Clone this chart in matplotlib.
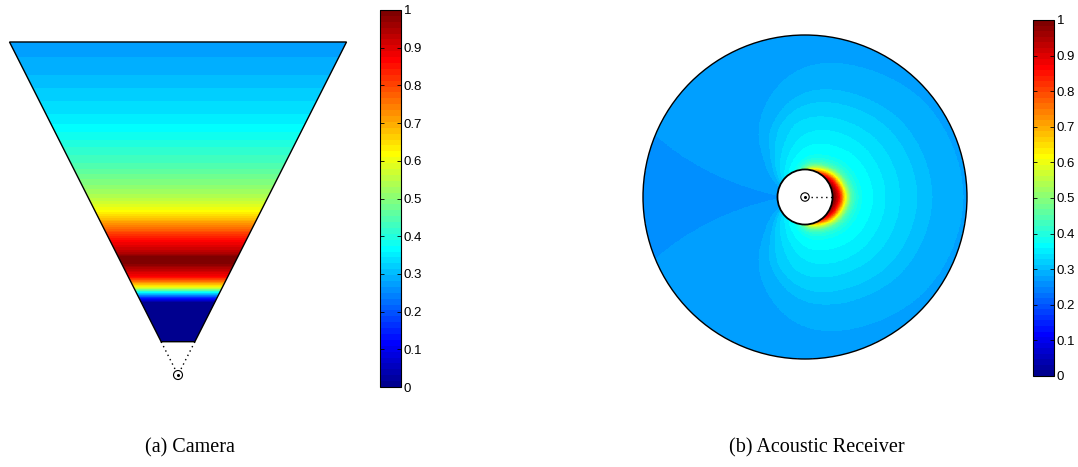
import numpy as np
import matplotlib
matplotlib.use("Agg")
import matplotlib.pyplot as plt
from matplotlib.colors import ListedColormap, Normalize
from matplotlib.patches import Polygon, Circle
import matplotlib.cm as cm

# ---------------- data ----------------
# Camera: detection value vs. distance from the camera (field of view units)
cam_dist = [1.0, 2.16, 2.31, 2.46, 2.64, 2.94, 3.21, 3.35, 3.52, 3.66, 3.99,
            4.44, 4.89, 5.26, 5.7, 6.3, 7.06, 7.66, 8.4, 9.16, 10.0]
cam_val = [0.0, 0.0, 0.15, 0.35, 0.62, 0.87, 0.95, 1.0, 1.0, 0.94, 0.87,
           0.75, 0.62, 0.55, 0.5, 0.44, 0.39, 0.35, 0.32, 0.29, 0.27]
cam_near, cam_far = 1.0, 10.0
cam_half_tan = 0.506          # tan of half field of view

# Acoustic receiver: value vs. scaled range on the front axis (units of max range)
ac_rho = [0.17, 0.191, 0.21, 0.228, 0.247, 0.265, 0.29, 0.321, 0.358, 0.426,
          0.5, 0.593, 0.698, 0.79, 0.988, 5.56, 123.0]
ac_val = [1.0, 0.97, 0.90, 0.80, 0.66, 0.55, 0.45, 0.40, 0.375, 0.359,
          0.344, 0.328, 0.3125, 0.297, 0.281, 0.2656, 0.256]
# angular reach of the contours (far field and close to the blind zone)
ac_angle = [0, 40, 50, 65, 80, 95, 110, 120, 130, 140, 150, 160, 166, 172, 180]
ac_reach_far = [1.0, 0.96, 0.93, 0.89, 0.86, 0.80, 0.66, 0.57, 0.45, 0.33,
                0.24, 0.17, 0.10, 0.03, 0.0]
ac_reach_near = [1.0, 0.86, 0.80, 0.74, 0.69, 0.61, 0.51, 0.45, 0.39, 0.32,
                 0.25, 0.17, 0.10, 0.03, 0.0]
ac_blind = 0.17               # blind-zone radius
ac_max = 1.0                  # maximum range

cbar_ticks = [0, 0.1, 0.2, 0.3, 0.4, 0.5, 0.6, 0.7, 0.8, 0.9, 1]
cbar_labels = ['0', '0.1', '0.2', '0.3', '0.4', '0.5', '0.6', '0.7', '0.8', '0.9', '1']
captions = ['(a) Camera', '(b) Acoustic Receiver']

# ---------------- MATLAB jet(64) ----------------
def matlab_jet(m=64):
    n = int(np.ceil(m / 4))
    u = np.concatenate([np.arange(1, n + 1) / n, np.ones(n - 1), np.arange(n, 0, -1) / n])
    g = int(np.ceil(n / 2)) - (1 if m % 4 == 1 else 0) + np.arange(1, len(u) + 1) - 1
    r = g + n
    b = g - n
    J = np.zeros((m, 3))
    for col, idx in ((0, r), (1, g), (2, b)):
        ok = (idx >= 0) & (idx < m)
        J[idx[ok], col] = u[ok]
    return ListedColormap(J)

cmap = matlab_jet(64)
norm = Normalize(0, 1)

def smooth_reach(angles, reach, sigma=7.0):
    """Smooth angular table (reflect at 0 and 180 deg)."""
    af = np.linspace(0, 180, 1801)
    sf = np.interp(af, angles, reach)
    ext = np.concatenate([sf[:0:-1], sf, sf[-2::-1]])
    step = af[1] - af[0]
    k = np.arange(-int(4 * sigma / step), int(4 * sigma / step) + 1) * step
    ker = np.exp(-0.5 * (k / sigma) ** 2)
    ker /= ker.sum()
    sm_ = np.convolve(ext, ker, mode='same')
    return af, sm_[len(sf) - 1: 2 * len(sf) - 1]

W, H = 1078, 467
fig = plt.figure(figsize=(W / 100, H / 100), dpi=100)

def frac(x0, y0, x1, y1):
    return [x0 / W, (H - y1) / H, (x1 - x0) / W, (y1 - y0) / H]

# ---------------- camera panel ----------------
ax1 = fig.add_axes(frac(0, 30, 356, 390))
xl = (-5.345, 5.345)
yl = (-0.45, 10.36)
ax1.set_xlim(*xl)
ax1.set_ylim(*yl)
ax1.axis('off')

xs = np.linspace(xl[0], xl[1], 800)
ds = np.linspace(yl[0], yl[1], 900)
X, D = np.meshgrid(xs, ds)
V = np.interp(D, cam_dist, cam_val)
im1 = ax1.imshow(V, extent=[xl[0], xl[1], yl[0], yl[1]], origin='lower',
                 cmap=cmap, norm=norm, interpolation='nearest', aspect='auto')
trap = [(-cam_half_tan * cam_far, cam_far), (cam_half_tan * cam_far, cam_far),
        (cam_half_tan * cam_near, cam_near), (-cam_half_tan * cam_near, cam_near)]
clip = Polygon(trap, closed=True, transform=ax1.transData, facecolor='none', edgecolor='none')
ax1.add_patch(clip)
im1.set_clip_path(clip)
ax1.add_patch(Polygon(trap, closed=True, facecolor='none', edgecolor='black', lw=1.0, zorder=3))
for sgn in (-1, 1):
    ax1.plot([sgn * cam_half_tan * cam_near, sgn * 0.08], [cam_near, 0.16],
             ls=(0, (1, 2.5)), color='black', lw=1.0)
ax1.add_patch(Circle((0, 0), 0.135, facecolor='none', edgecolor='black', lw=0.8))
ax1.plot([0], [0], marker='o', ms=1.2, color='black')

# ---------------- acoustic panel ----------------
ax2 = fig.add_axes(frac(630, 20, 980, 380))
xl2 = (-175 / 162, 175 / 162)
yl2 = (-183 / 162, 177 / 162)
ax2.set_xlim(*xl2)
ax2.set_ylim(*yl2)
ax2.axis('off')

gx = np.linspace(xl2[0], xl2[1], 900)
gy = np.linspace(yl2[0], yl2[1], 920)
GX, GY = np.meshgrid(gx, gy)
R = np.hypot(GX, GY)
TH = np.degrees(np.abs(np.arctan2(GY, GX)))
af, sfar = smooth_reach(ac_angle, ac_reach_far)
_, snear = smooth_reach(ac_angle, ac_reach_near)
s_far = np.interp(TH, af, sfar)
s_near = np.interp(TH, af, snear)
t = np.clip((R - ac_blind) / (0.45 - ac_blind), 0, 1)
S = s_near + (s_far - s_near) * t
RHO = R / np.maximum(S, 1e-4)
V2 = np.interp(RHO, ac_rho, ac_val)
V2 = np.ma.masked_where((R > ac_max) | (R < ac_blind), V2)
ax2.imshow(V2, extent=[xl2[0], xl2[1], yl2[0], yl2[1]], origin='lower',
           cmap=cmap, norm=norm, interpolation='nearest', aspect='auto')
ax2.add_patch(Circle((0, 0), ac_max, facecolor='none', edgecolor='black', lw=1.0))
ax2.add_patch(Circle((0, 0), ac_blind, facecolor='white', edgecolor='black', lw=1.3, zorder=3))
ax2.add_patch(Circle((0, 0), 0.026, facecolor='none', edgecolor='black', lw=0.8, zorder=4))
ax2.plot([0], [0], marker='o', ms=1.2, color='black', zorder=5)
ax2.plot([0.04, ac_blind], [0, 0], ls=(0, (1, 2.5)), color='black', lw=1.0, zorder=4)

# ---------------- colorbars ----------------
sm = cm.ScalarMappable(norm=norm, cmap=cmap)
for box in (frac(380, 10, 401, 387), frac(1033, 20, 1054, 376)):
    cax = fig.add_axes(box)
    cb = fig.colorbar(sm, cax=cax)
    cb.set_ticks(cbar_ticks)
    cb.set_ticklabels(cbar_labels)
    cb.outline.set_linewidth(0.8)
    cax.tick_params(direction='in', length=3, width=0.6, pad=2, labelsize=9.5,
                    left=True, right=True)
    for lab in cax.get_yticklabels():
        lab.set_fontfamily('Liberation Sans')

# ---------------- captions ----------------
fig.text(190 / W, 15 / H, captions[0], ha='center', va='baseline',
         fontfamily='Liberation Serif', fontsize=14.5)
fig.text(817 / W, 15 / H, captions[1], ha='center', va='baseline',
         fontfamily='Liberation Serif', fontsize=14.5)

fig.savefig('out.png', dpi=100)
